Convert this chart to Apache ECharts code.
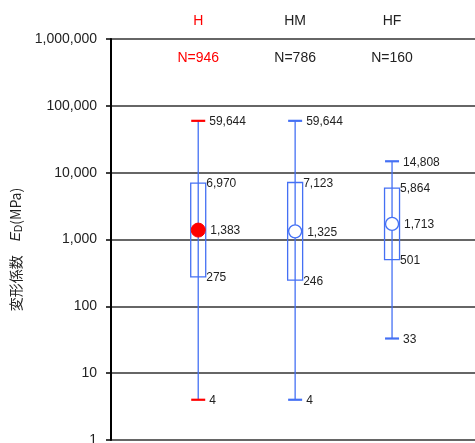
<!DOCTYPE html>
<html>
<head>
<meta charset="utf-8">
<script src="https://cdn.jsdelivr.net/npm/echarts@6/dist/echarts.min.js"></script>
<style>
  html, body { margin: 0; padding: 0; background: #fff; }
  #chart { width: 475px; height: 443px; }
</style>
</head>
<body>
<div id="chart"></div>
<script>
// Deformation modulus statistics per rock class
const categories = ['H', 'HM', 'HF'];
const sampleCounts = [946, 786, 160];
const minValues = [4, 4, 33];
const lowerValues = [275, 246, 501];
const meanValues = [1383, 1325, 1713];
const upperValues = [6970, 7123, 5864];
const maxValues = [59644, 59644, 14808];
const yTicks = [1, 10, 100, 1000, 10000, 100000, 1000000];

const BLUE = '#4470f4';
const RED = '#ff0000';
const TEXT = '#222';
const accent = ['red', 'blue', 'blue'];

const rows = categories.map((c, i) => [i + 1, minValues[i], lowerValues[i], meanValues[i], upperValues[i], maxValues[i]]);
const fmt = v => Number(v).toLocaleString('en-US');

const chart = echarts.init(document.getElementById('chart'), null, { renderer: 'canvas' });

function renderItem(params, api) {
  const i = params.dataIndex;
  const x = api.value(0);
  const pMin = api.coord([x, api.value(1)]);
  const pLo = api.coord([x, api.value(2)]);
  const pMean = api.coord([x, api.value(3)]);
  const pHi = api.coord([x, api.value(4)]);
  const pMax = api.coord([x, api.value(5)]);
  const cx = pMin[0];
  const isRed = accent[i] === 'red';
  const capColor = isRed ? RED : BLUE;
  const boxW = 15, capW = 14;
  const top = params.coordSys.y;
  const label = (px, py, txt, color) => ({
    type: 'text', x: px, y: py,
    style: { text: txt, fill: color || TEXT, font: '12px "Liberation Sans", Arial, sans-serif', textAlign: 'left', textVerticalAlign: 'middle' }
  });
  return {
    type: 'group',
    children: [
      { type: 'line', shape: { x1: cx, y1: pMax[1], x2: cx, y2: pMin[1] }, style: { stroke: BLUE, lineWidth: 1.3 } },
      { type: 'rect', shape: { x: cx - boxW / 2, y: pHi[1], width: boxW, height: pLo[1] - pHi[1] }, style: { fill: 'none', stroke: BLUE, lineWidth: 1.3 } },
      { type: 'line', shape: { x1: cx - capW / 2, y1: pMax[1], x2: cx + capW / 2, y2: pMax[1] }, style: { stroke: capColor, lineWidth: 2.2 } },
      { type: 'line', shape: { x1: cx - capW / 2, y1: pMin[1], x2: cx + capW / 2, y2: pMin[1] }, style: { stroke: capColor, lineWidth: 2.2 } },
      isRed
        ? { type: 'circle', shape: { cx: cx, cy: pMean[1], r: 7 }, style: { fill: RED, stroke: RED, lineWidth: 1 } }
        : { type: 'circle', shape: { cx: cx, cy: pMean[1], r: 6.5 }, style: { fill: '#fff', stroke: BLUE, lineWidth: 1.3 } },
      label(cx + 11, pMax[1] + 1, fmt(api.value(5))),
      label(cx + 8, pHi[1] + 1, fmt(api.value(4))),
      label(cx + 12, pMean[1] + 1, fmt(api.value(3))),
      label(cx + 8, pLo[1] + 1, fmt(api.value(2))),
      label(cx + 11, pMin[1] + 1, fmt(api.value(1))),
      {
        type: 'text', x: cx, y: top + 19,
        style: { text: 'N=' + sampleCounts[i], fill: isRed ? RED : TEXT, font: '14px "Liberation Sans", Arial, sans-serif', textAlign: 'center', textVerticalAlign: 'middle' }
      }
    ]
  };
}

chart.setOption({
  animation: false,
  backgroundColor: '#fff',
  grid: { left: 111, right: 0, top: 39, bottom: 3, containLabel: false, outerBoundsMode: 'none' },
  xAxis: {
    type: 'value',
    position: 'top',
    min: 0.1,
    max: 3.856,
    axisLine: { show: false },
    axisTick: { show: false },
    splitLine: { show: false },
    axisLabel: {
      customValues: [1, 2, 3],
      margin: 11,
      fontSize: 14,
      fontFamily: '"Liberation Sans", Arial, sans-serif',
      color: TEXT,
      formatter: v => {
        const i = Math.round(v) - 1;
        return accent[i] === 'red' ? '{r|' + categories[i] + '}' : categories[i];
      },
      rich: { r: { color: RED, fontSize: 14, fontFamily: '"Liberation Sans", Arial, sans-serif' } }
    }
  },
  yAxis: {
    type: 'log',
    logBase: 10,
    min: 1,
    max: 1000000,
    name: '変形係数　{i|E}{s|D}(MPa)',
    nameLocation: 'middle',
    nameGap: 87,
    nameRotate: 90,
    nameTextStyle: {
      fontSize: 14,
      color: TEXT,
      fontFamily: '"Noto Sans CJK JP", "Liberation Sans", sans-serif',
      padding: [0, 20, 0, 0],
      rich: {
        i: { fontSize: 14, fontStyle: 'italic', fontFamily: '"Liberation Sans", Arial, sans-serif', color: TEXT },
        s: { fontSize: 10, fontFamily: '"Liberation Sans", Arial, sans-serif', color: TEXT, padding: [6, 0, 0, 0] }
      }
    },
    axisLine: { show: true, lineStyle: { color: '#000', width: 2 } },
    axisTick: { show: true, inside: false, length: 5, lineStyle: { color: '#000', width: 1.5 }, customValues: yTicks },
    axisLabel: {
      customValues: yTicks,
      margin: 14,
      fontSize: 14,
      fontFamily: '"Liberation Sans", Arial, sans-serif',
      color: TEXT,
      formatter: v => fmt(v)
    },
    splitLine: { show: true, lineStyle: { color: '#333', width: 1.5 } }
  },
  series: [{
    type: 'custom',
    renderItem: renderItem,
    clip: false,
    encode: { x: 0, y: [1, 2, 3, 4, 5] },
    data: rows
  }]
});
</script>
</body>
</html>
